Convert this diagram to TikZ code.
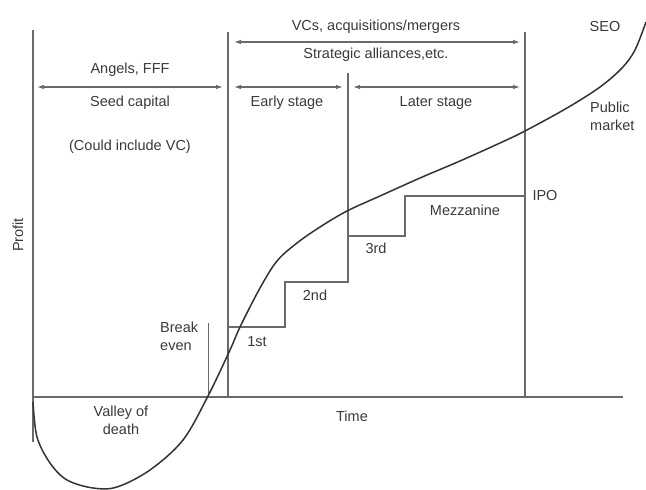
\documentclass[tikz,border=0pt]{standalone}
\usepackage{fontspec}
\setmainfont{Liberation Sans}
\usetikzlibrary{arrows.meta}
\definecolor{linegray}{HTML}{6A6A6A}
\definecolor{txtgray}{HTML}{3A3A3A}
\begin{document}
\begin{tikzpicture}[x=1pt,y=-1pt,
  lbl/.style={text=txtgray,font=\fontsize{14.5}{17.5}\selectfont,inner sep=0pt,align=center},
  gline/.style={draw=linegray,line width=1.1pt},
  darr/.style={gline,{Latex[length=7pt,width=4.5pt]}-{Latex[length=7pt,width=4.5pt]}},
  curve/.style={draw=black!80,line width=1.5pt,line join=round}]
\useasboundingbox[fill=white] (0,0) rectangle (646,490);
% axes
\coordinate (ytop) at (33,30);
\coordinate (ybot) at (33,442);
\coordinate (origin) at (33,397);
\coordinate (xend) at (623,397);
\draw[gline] (ytop) -- (ybot);
\draw[gline] (origin) -- (xend);
% vertical dividers
\coordinate (v1t) at (228,32);
\coordinate (v1b) at (228,397);
\coordinate (v3t) at (525,32);
\coordinate (v3b) at (525,397);
\draw[gline] (v1t) -- (v1b);
\draw[gline] (v3t) -- (v3b);
% staircase
\coordinate (s0) at (228,327);
\coordinate (s1) at (285,327);
\coordinate (s2) at (285,282);
\coordinate (s3) at (348,282);
\coordinate (s3t) at (348,73);
\coordinate (s4) at (348,236);
\coordinate (s5) at (405,236);
\coordinate (s6) at (405,196);
\coordinate (s7) at (525,196);
\draw[gline] (s0) -- (s1) -- (s2) -- (s3) -- (s3t);
\draw[gline] (s4) -- (s5) -- (s6) -- (s7);
% break even line
\coordinate (bet) at (208,323);
\coordinate (beb) at (208,397);
\draw[gline,line width=0.8pt] (bet) -- (beb);
% arrows
\coordinate (a1l) at (234,42);
\coordinate (a1r) at (520,42);
\coordinate (a2l) at (37,87);
\coordinate (a2r) at (223,87);
\coordinate (a3l) at (234,87);
\coordinate (a3r) at (343,87);
\coordinate (a4l) at (353,87);
\coordinate (a4r) at (520,87);
\draw[darr] (a1l) -- (a1r);
\draw[darr] (a2l) -- (a2r);
\draw[darr] (a3l) -- (a3r);
\draw[darr] (a4l) -- (a4r);
% curve
\draw[curve] plot[smooth,tension=0.55] coordinates {(33,402) (37,437) (50,463) (67,480) (93,488) (117,487) (150,470) (183,440) (208,396) (230,350) (240,327) (260,288) (277,261) (297,243) (320,227) (347,211) (380,196) (420,178) (460,161) (500,143) (525,131) (567,108) (600,87) (622,68) (635,50) (646,22)};
% labels
\node[lbl] (vcs) at (376,27) {VCs, acquisitions/mergers};
\node[lbl] (strat) at (376,55) {Strategic alliances,etc.};
\node[lbl] (angels) at (130,70) {Angels, FFF};
\node[lbl] (seed) at (130,103) {Seed capital};
\node[lbl] (could) at (130,147) {(Could include VC)};
\node[lbl] (early) at (287,103) {Early stage};
\node[lbl] (later) at (436,103) {Later stage};
\node[lbl] (seo) at (605,27) {SEO};
\node[lbl,align=left,anchor=west] (pub) at (590,116.5) {Public\\market};
\node[lbl] (ipo) at (545,196) {IPO};
\node[lbl] (mezz) at (465,210) {Mezzanine};
\node[lbl] (third) at (376,248) {3rd};
\node[lbl] (second) at (315,295) {2nd};
\node[lbl] (first) at (257,342) {1st};
\node[lbl,align=left,anchor=west] (be) at (160,336.5) {Break\\even};
\node[lbl] (valley) at (121,420.5) {Valley of\\death};
\node[lbl] (time) at (352,416) {Time};
\node[lbl,rotate=90] (profit) at (18,235) {Profit};
\end{tikzpicture}
\end{document}
